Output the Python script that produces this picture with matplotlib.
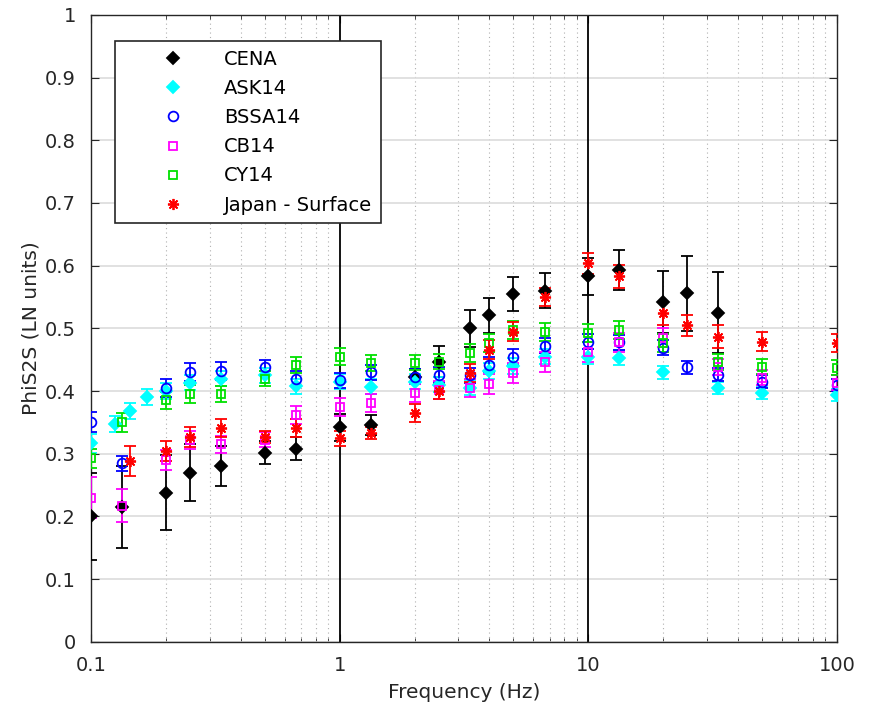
import matplotlib
matplotlib.use("Agg")
import matplotlib.pyplot as plt
from matplotlib.lines import Line2D
from matplotlib.ticker import LogLocator, NullFormatter

plt.rcParams["font.family"] = ["DejaVu Sans"]

# --- data ---
cena_f = [0.1, 0.133, 0.2, 0.25, 0.333, 0.5, 0.667, 1.0, 1.333, 2.0, 2.5, 3.333,
          4.0, 5.0, 6.667, 10.0, 13.33, 20.0, 25.0, 33.33]
cena_v = [0.200, 0.215, 0.238, 0.270, 0.280, 0.302, 0.308, 0.342, 0.346, 0.423, 0.447, 0.500,
          0.521, 0.555, 0.560, 0.583, 0.593, 0.542, 0.556, 0.525]
cena_e = [0.070, 0.065, 0.060, 0.045, 0.032, 0.018, 0.018, 0.022, 0.016, 0.012, 0.025, 0.030,
          0.028, 0.027, 0.028, 0.030, 0.032, 0.050, 0.060, 0.065]

ask_f = [0.1, 0.125, 0.143, 0.167, 0.2, 0.25, 0.333, 0.5, 0.667, 1.0, 1.333, 2.0, 2.5,
         3.333, 4.0, 5.0, 6.667, 10.0, 13.33, 20.0, 33.33, 50.0, 100.0]
ask_v = [0.317, 0.347, 0.368, 0.390, 0.400, 0.413, 0.420, 0.425, 0.408, 0.415, 0.407, 0.415, 0.410,
         0.405, 0.432, 0.440, 0.455, 0.455, 0.453, 0.430, 0.405, 0.397, 0.394]
ask_e = [0.015, 0.013, 0.013, 0.013, 0.013, 0.012, 0.012, 0.012, 0.012, 0.012, 0.012, 0.012, 0.012,
         0.012, 0.012, 0.012, 0.012, 0.012, 0.012, 0.010, 0.010, 0.010, 0.010]

bssa_f = [0.1, 0.133, 0.2, 0.25, 0.333, 0.5, 0.667, 1.0, 1.333, 2.0, 2.5, 3.333,
          4.0, 5.0, 6.667, 10.0, 13.33, 20.0, 25.0, 33.33, 50.0, 100.0]
bssa_v = [0.350, 0.285, 0.405, 0.430, 0.432, 0.438, 0.420, 0.417, 0.430, 0.423, 0.426, 0.425,
          0.442, 0.455, 0.472, 0.479, 0.478, 0.469, 0.438, 0.426, 0.415, 0.410]
bssa_e = [0.016, 0.012, 0.014, 0.014, 0.014, 0.012, 0.012, 0.012, 0.012, 0.012, 0.012, 0.012,
          0.012, 0.012, 0.012, 0.012, 0.012, 0.012, 0.010, 0.010, 0.010, 0.010]

cb_f = [0.1, 0.133, 0.2, 0.25, 0.333, 0.5, 0.667, 1.0, 1.333, 2.0, 2.5, 3.333,
        4.0, 5.0, 6.667, 10.0, 13.33, 20.0, 33.33, 50.0, 100.0]
cb_v = [0.230, 0.217, 0.290, 0.322, 0.315, 0.322, 0.362, 0.375, 0.381, 0.397, 0.402, 0.405,
        0.411, 0.429, 0.447, 0.463, 0.478, 0.485, 0.438, 0.421, 0.413]
cb_e = [0.033, 0.026, 0.016, 0.015, 0.014, 0.012, 0.014, 0.014, 0.014, 0.014, 0.014, 0.015,
        0.016, 0.016, 0.016, 0.016, 0.015, 0.015, 0.013, 0.012, 0.012]

cy_f = [0.1, 0.133, 0.2, 0.25, 0.333, 0.5, 0.667, 1.0, 1.333, 2.0, 2.5, 3.333,
        4.0, 5.0, 6.667, 10.0, 13.33, 20.0, 33.33, 50.0, 100.0]
cy_v = [0.293, 0.350, 0.385, 0.395, 0.395, 0.420, 0.442, 0.455, 0.445, 0.445, 0.447, 0.461,
        0.477, 0.497, 0.494, 0.493, 0.497, 0.477, 0.446, 0.439, 0.437]
cy_e = [0.015, 0.015, 0.014, 0.014, 0.013, 0.012, 0.013, 0.014, 0.013, 0.012, 0.012, 0.014,
        0.014, 0.014, 0.014, 0.014, 0.014, 0.014, 0.013, 0.012, 0.012]

jp_f = [0.143, 0.2, 0.25, 0.333, 0.5, 0.667, 1.0, 1.333, 2.0, 2.5, 3.333,
        4.0, 5.0, 6.667, 10.0, 13.33, 20.0, 25.0, 33.33, 50.0, 100.0]
jp_v = [0.288, 0.305, 0.327, 0.341, 0.327, 0.341, 0.325, 0.333, 0.365, 0.400, 0.429,
        0.466, 0.495, 0.550, 0.604, 0.583, 0.524, 0.505, 0.487, 0.479, 0.477]
jp_e = [0.024, 0.016, 0.016, 0.015, 0.010, 0.014, 0.012, 0.010, 0.014, 0.012, 0.014,
        0.015, 0.015, 0.015, 0.017, 0.018, 0.018, 0.017, 0.018, 0.015, 0.014]

star = (8, 2, 0)
series = [
    ("CENA", cena_f, cena_v, cena_e, "black", "D", True, 6),
    ("ASK14", ask_f, ask_v, ask_e, "cyan", "D", True, 6),
    ("BSSA14", bssa_f, bssa_v, bssa_e, "blue", "o", False, 7),
    ("CB14", cb_f, cb_v, cb_e, "magenta", "s", False, 6),
    ("CY14", cy_f, cy_v, cy_e, "#00e000", "s", False, 6),
    ("Japan - Surface", jp_f, jp_v, jp_e, "red", star, False, 8),
]

fig = plt.figure(figsize=(8.69, 7.10), dpi=100)
ax = fig.add_axes([0.105, 0.096, 0.858, 0.883])

handles = []
for name, f, v, e, c, m, filled, ms in series:
    ax.errorbar(f, v, yerr=e, fmt="none", ecolor=c, elinewidth=1.3, capsize=4.5,
                capthick=1.3, zorder=3)
    ax.plot(f, v, linestyle="none", marker=m, markersize=ms, color=c,
            markerfacecolor=c if filled else "none", markeredgewidth=1.3, zorder=4)
    handles.append(Line2D([], [], linestyle="none", marker=m, color=c,
                          markersize=ms, markerfacecolor=c if filled else "none",
                          markeredgewidth=1.3, label=name))

ax.axvline(1, color="black", linewidth=1.3, zorder=2)
ax.axvline(10, color="black", linewidth=1.3, zorder=2)

ax.set_xscale("log")
ax.set_xlim(0.1, 100)
ax.set_ylim(0, 1)
ax.set_xticks([0.1, 1, 10, 100])
ax.set_xticklabels(["0.1", "1", "10", "100"])
ax.xaxis.set_minor_locator(LogLocator(base=10, subs=range(2, 10)))
ax.xaxis.set_minor_formatter(NullFormatter())
ax.set_yticks([i / 10 for i in range(11)])
ax.set_yticklabels(["0", "0.1", "0.2", "0.3", "0.4", "0.5", "0.6", "0.7", "0.8", "0.9", "1"])

ax.grid(True, axis="y", which="major", color="#dcdcdc", linewidth=1.2)
ax.grid(True, axis="x", which="minor", color="#b0b0b0", linestyle=(0, (1, 3)), linewidth=0.8)
ax.set_axisbelow(True)

ax.tick_params(which="both", direction="in", top=True, right=True, colors="#262626",
               labelsize=14)
ax.tick_params(which="major", length=6)
ax.tick_params(which="minor", length=3)
ax.tick_params(axis="x", pad=10)
ax.tick_params(axis="y", pad=11)
for sp in ax.spines.values():
    sp.set_color("#262626")
    sp.set_linewidth(1.0)

ax.set_xlabel("Frequency (Hz)", fontsize=14.5, color="#262626", labelpad=6)
ax.set_ylabel("PhiS2S (LN units)", fontsize=14.5, color="#262626", labelpad=3)

leg = ax.legend(handles=handles, loc="upper left", bbox_to_anchor=(0.032, 0.958),
                fontsize=14, frameon=True, fancybox=False, edgecolor="#262626",
                handlelength=5.1, handletextpad=0.05, labelspacing=0.52, borderpad=0.45,
                borderaxespad=0)
leg.get_frame().set_linewidth(1.2)
leg.get_frame().set_alpha(1)

fig.savefig("out.png", dpi=100)
